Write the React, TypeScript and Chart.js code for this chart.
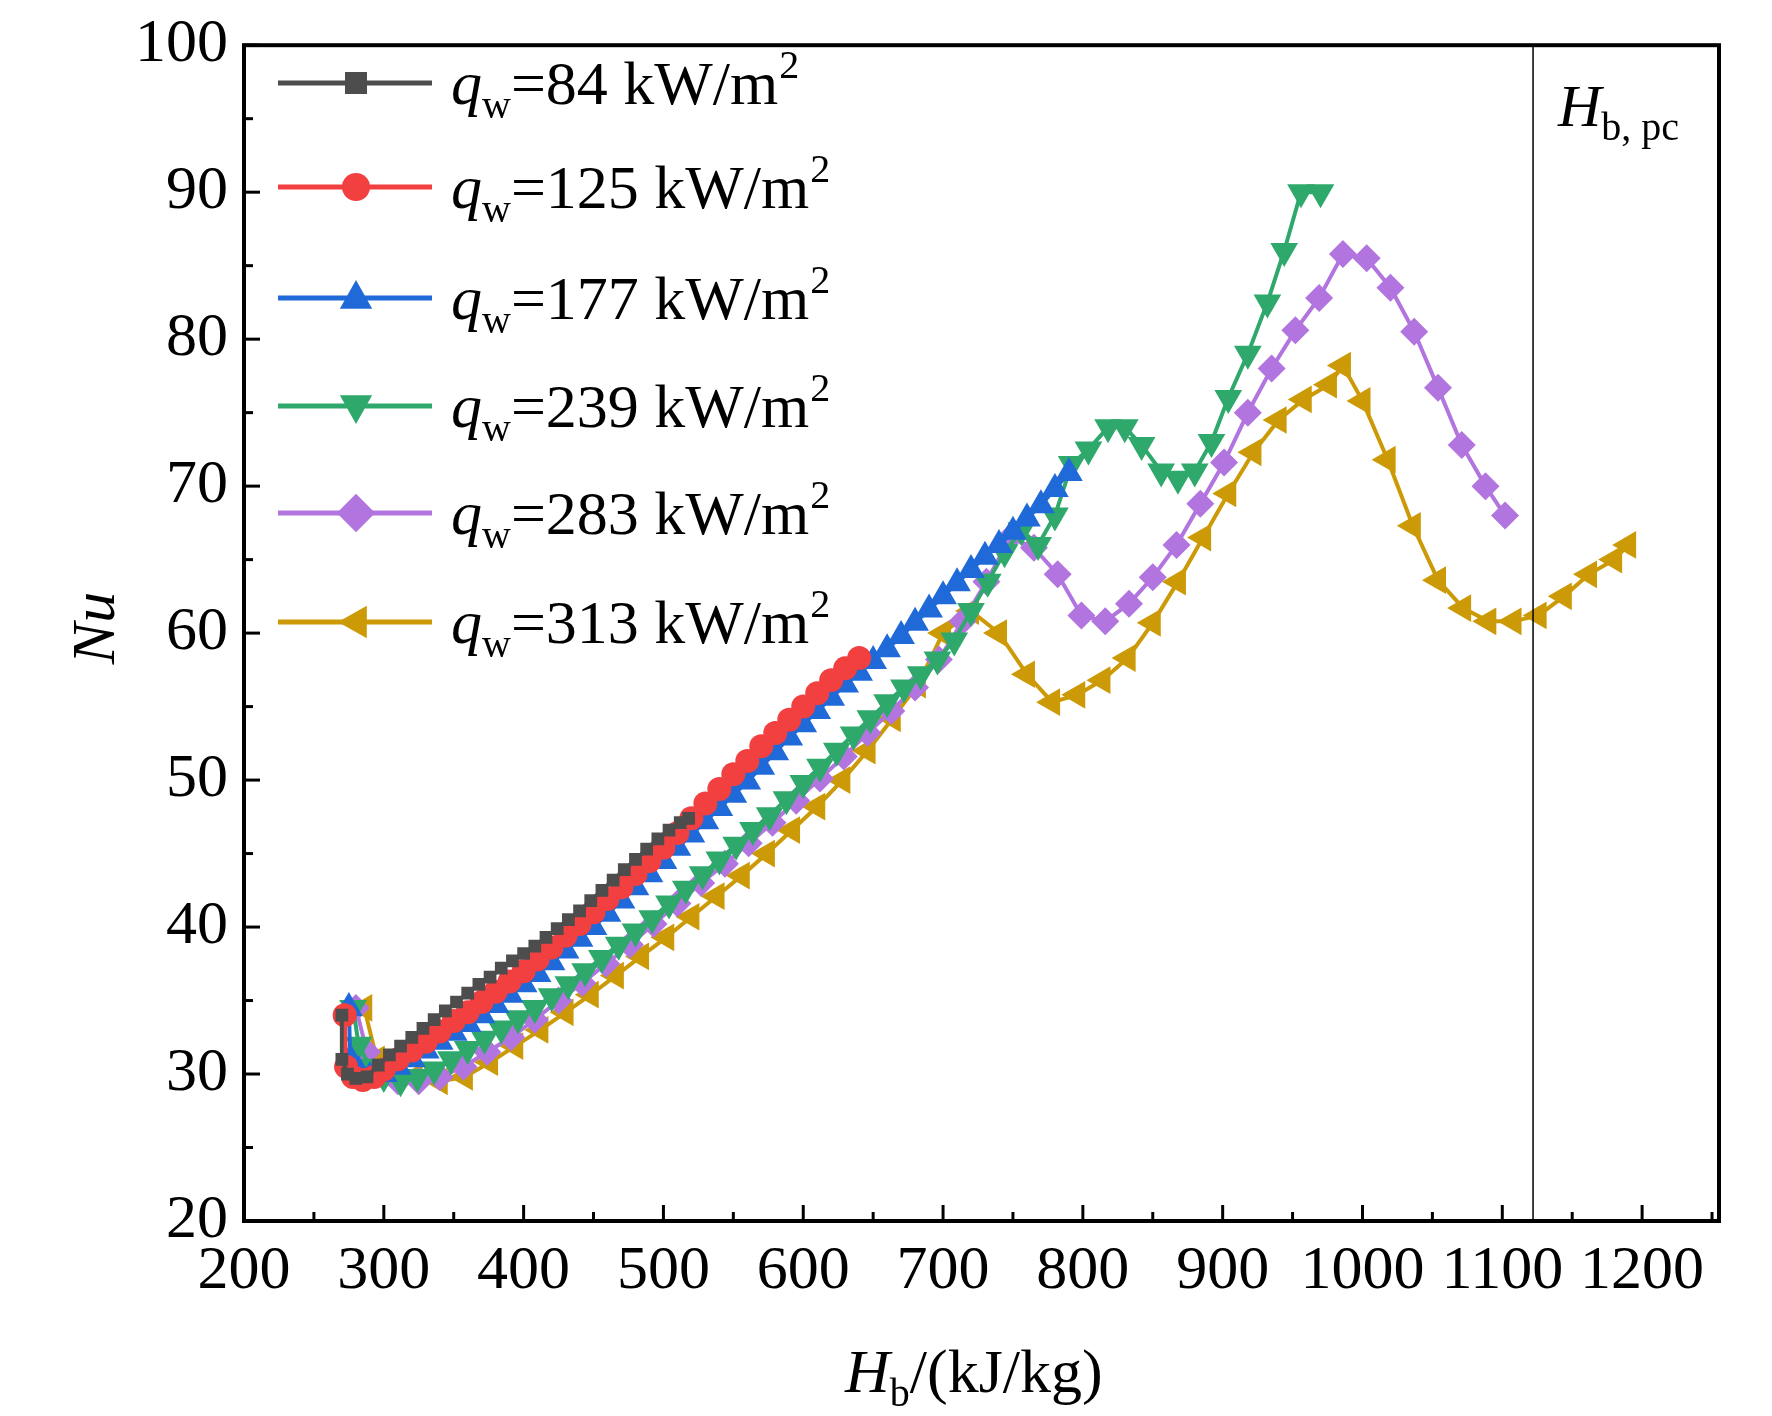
import React, { useEffect, useRef } from "react";
import { Chart, registerables } from "chart.js";
Chart.register(...registerables);

const legendLabels = ["84", "125", "177", "239", "283", "313"];
const colors = ["#4d4d4d", "#f23f3f", "#1f6ad8", "#2fa86c", "#b274de", "#cc9a06"];
const styles = ["rect", "circle", "triangle", "triangle", "rectRot", "triangle"];
const rotations = [0, 0, 0, 180, 0, -90];
const radii = [9, 12, 16, 16, 14, 16];

const s84x = [270,270,274,280,288,296,304,312,320,328,336,344,352,360,368,376,384,392,400,408,416,424,432,440,448,456,464,472,480,488,496,504,512,518];
const s84y = [34,31,30,29.7,29.8,30.6,31.3,31.9,32.5,33.1,33.7,34.3,34.9,35.5,36.1,36.6,37.2,37.7,38.2,38.7,39.3,39.9,40.5,41.1,41.8,42.5,43.2,43.9,44.6,45.3,46,46.6,47.1,47.4];
const s125x = [272,273,278,285,293,300,310,320,330,340,350,360,370,380,390,400,410,420,430,440,450,460,470,480,490,500,510,520,530,540,550,560,570,580,590,600,610,620,630,640];
const s125y = [34,30.5,29.8,29.6,29.8,30.3,31,31.6,32.2,32.9,33.6,34.2,34.9,35.6,36.3,37,37.8,38.6,39.4,40.2,41,41.9,42.7,43.6,44.5,45.4,46.4,47.4,48.4,49.4,50.4,51.3,52.3,53.2,54.1,55,55.9,56.8,57.6,58.3];
const s177x = [275,276,282,290,300,310,320,330,340,350,360,370,380,390,400,410,420,430,440,450,460,470,480,490,500,510,520,530,540,550,560,570,580,590,600,610,620,630,640,650,660,670,680,690,700,710,720,730,740,750,760,770,780,790];
const s177y = [34.5,31,30.2,29.8,30,30.5,31,31.6,32.2,32.8,33.4,34,34.7,35.4,36.1,36.8,37.6,38.4,39.2,40,40.9,41.8,42.7,43.6,44.5,45.4,46.3,47.2,48.1,49,49.9,50.9,51.9,52.9,53.8,54.7,55.6,56.5,57.3,58.1,58.9,59.8,60.7,61.6,62.5,63.4,64.3,65.2,66,66.9,67.8,68.7,69.8,70.9];
const s239x = [278,282,290,300,312,324,336,348,360,372,384,396,408,420,432,444,456,468,480,492,504,516,528,540,552,564,576,588,600,612,624,636,648,660,672,684,696,708,720,732,744,756,768,780,792,804,818,830,842,856,868,880,892,904,918,932,944,956,970];
const s239y = [34.5,32,30.5,29.8,29.5,29.8,30.3,31,31.7,32.4,33.1,33.8,34.5,35.3,36.1,37,37.9,38.8,39.7,40.6,41.6,42.6,43.6,44.6,45.6,46.6,47.6,48.7,49.8,50.9,52,53.1,54.2,55.3,56.3,57.2,58.2,59.5,61.5,63.5,65.5,67,66,68,71.5,72.5,74,74,72.8,71,70.5,71,73,76,79,82.5,86,90,90];
const s283x = [280,288,298,310,325,340,357,374,391,408,425,442,459,476,493,510,527,544,561,578,595,612,629,646,663,680,697,714,731,748,765,782,799,816,833,850,867,884,901,918,935,952,969,986,1003,1020,1037,1054,1071,1088,1102];
const s283y = [34.5,31.5,30,29.5,29.5,29.8,30.5,31.5,32.5,33.7,35,36.2,37.5,38.8,40.2,41.6,43,44.3,45.7,47.1,48.6,50.1,51.6,53.2,54.7,56.3,58.2,60.8,63.5,66.5,65.8,64,61.2,60.8,62,63.8,66,68.8,71.6,75,78,80.6,82.8,85.8,85.5,83.5,80.5,76.7,72.8,70,68];
const s313x = [286,295,305,322,340,358,376,394,412,430,448,466,484,502,520,538,556,574,592,610,628,646,664,682,700,720,740,760,778,796,814,832,850,868,886,904,922,940,958,976,986,1000,1018,1036,1054,1072,1090,1108,1126,1144,1162,1180,1190];
const s313y = [34.5,31,30.3,29.8,29.5,29.8,30.8,31.9,33,34.2,35.4,36.7,38,39.3,40.7,42.1,43.5,45,46.6,48.2,50,52,54.2,56.5,60,61.5,60,57.2,55.3,55.8,56.8,58.3,60.7,63.5,66.5,69.5,72.3,74.5,75.9,76.9,78.2,75.8,71.8,67.3,63.6,61.7,60.8,60.8,61.2,62.5,64,65,66];
const seriesX = [s84x, s125x, s177x, s239x, s283x, s313x];
const seriesY = [s84y, s125y, s177y, s239y, s283y, s313y];

const xTicks = [200,300,400,500,600,700,800,900,1000,1100,1200];
const yTicks = [20,30,40,50,60,70,80,90,100];
const hPc = 1122;

const SERIF = "'Liberation Serif', 'DejaVu Serif', serif";

function marker(ctx: CanvasRenderingContext2D, style: string, rot: number, r: number, x: number, y: number) {
  ctx.save();
  ctx.translate(x, y);
  ctx.rotate((rot * Math.PI) / 180);
  ctx.beginPath();
  if (style === "rect") ctx.rect(-r, -r, 2 * r, 2 * r);
  else if (style === "circle") ctx.arc(0, 0, r, 0, Math.PI * 2);
  else if (style === "rectRot") { ctx.moveTo(0, -r * 1.2); ctx.lineTo(r * 1.2, 0); ctx.lineTo(0, r * 1.2); ctx.lineTo(-r * 1.2, 0); ctx.closePath(); }
  else { ctx.moveTo(0, -r); ctx.lineTo(r * 0.9, r * 0.6); ctx.lineTo(-r * 0.9, r * 0.6); ctx.closePath(); }
  ctx.fill();
  ctx.restore();
}

export default function App() {
  const ref = useRef<HTMLCanvasElement>(null);
  useEffect(() => {
    document.body.style.margin = "0";
    const deco = {
      id: "deco",
      afterDatasetsDraw(chart: any) {
        const ctx = chart.ctx;
        const a = chart.chartArea;
        const xs = chart.scales.x, ys = chart.scales.y;
        ctx.save();
        ctx.strokeStyle = "#000"; ctx.lineWidth = 1.5;
        const vx = xs.getPixelForValue(hPc);
        ctx.beginPath(); ctx.moveTo(vx, a.top); ctx.lineTo(vx, a.bottom); ctx.stroke();
        ctx.lineWidth = 4;
        ctx.strokeRect(a.left, a.top, a.right - a.left, a.bottom - a.top);
        ctx.lineWidth = 3;
        for (let v = 200; v <= 1250; v += 50) {
          const p = xs.getPixelForValue(v);
          const L = v % 100 === 0 ? 16 : 9;
          ctx.beginPath(); ctx.moveTo(p, a.bottom); ctx.lineTo(p, a.bottom - L); ctx.stroke();
        }
        for (let v = 20; v <= 100; v += 5) {
          const p = ys.getPixelForValue(v);
          const L = v % 10 === 0 ? 16 : 9;
          ctx.beginPath(); ctx.moveTo(a.left, p); ctx.lineTo(a.left + L, p); ctx.stroke();
        }
        const ly = [83, 187, 298, 406, 513, 622];
        ctx.textBaseline = "alphabetic";
        for (let i = 0; i < 6; i++) {
          ctx.strokeStyle = colors[i]; ctx.lineWidth = 5;
          ctx.beginPath(); ctx.moveTo(278, ly[i]); ctx.lineTo(432, ly[i]); ctx.stroke();
          ctx.fillStyle = colors[i];
          marker(ctx, styles[i], rotations[i], radii[i] + 2, 356, ly[i]);
          let x = 451; const base = ly[i] + 21;
          ctx.fillStyle = "#000";
          ctx.font = `italic 62px ${SERIF}`; ctx.fillText("q", x, base); x += ctx.measureText("q").width;
          ctx.font = `40px ${SERIF}`; ctx.fillText("w", x, base + 14); x += ctx.measureText("w").width;
          ctx.font = `62px ${SERIF}`; const t = "=" + legendLabels[i] + " kW/m"; ctx.fillText(t, x, base); x += ctx.measureText(t).width;
          ctx.font = `40px ${SERIF}`; ctx.fillText("2", x + 1, base - 26);
        }
        ctx.fillStyle = "#000";
        let x = 1558; const b = 126;
        ctx.font = `italic 60px ${SERIF}`; ctx.fillText("H", x, b); x += ctx.measureText("H").width;
        ctx.font = `40px ${SERIF}`; ctx.fillText("b, pc", x, b + 14);
        x = 845; const tb = 1392;
        ctx.font = `italic 62px ${SERIF}`; ctx.fillText("H", x, tb); x += ctx.measureText("H").width;
        ctx.font = `40px ${SERIF}`; ctx.fillText("b", x, tb + 14); x += ctx.measureText("b").width;
        ctx.font = `62px ${SERIF}`; ctx.fillText("/(kJ/kg)", x, tb);
        ctx.translate(114, 628); ctx.rotate(-Math.PI / 2);
        ctx.font = `italic 62px ${SERIF}`; ctx.textAlign = "center"; ctx.fillText("Nu", 0, 0);
        ctx.restore();
      },
    };
    const chart = new Chart(ref.current!, {
      type: "line",
      data: {
        datasets: seriesX.map((xs, i) => ({
          label: legendLabels[i],
          data: xs.map((x, j) => ({ x, y: seriesY[i][j] })),
          borderColor: colors[i],
          backgroundColor: colors[i],
          borderWidth: 4,
          pointStyle: styles[i] as any,
          rotation: rotations[i],
          pointRadius: radii[i],
          pointBorderWidth: 0,
          tension: 0,
        })),
      },
      options: {
        animation: false,
        responsive: false,
        layout: { padding: { top: 36, right: 53, left: 0, bottom: 0 } },
        plugins: { legend: { display: false }, tooltip: { enabled: false } },
        scales: {
          x: {
            type: "linear", min: 200, max: 1255,
            afterBuildTicks: (s: any) => { s.ticks = xTicks.map((v) => ({ value: v })); },
            afterFit: (s: any) => { s.height = 1416 - 1221; },
            grid: { display: false }, border: { display: false },
            ticks: { color: "#000", font: { family: SERIF, size: 62 }, padding: 6, maxRotation: 0, autoSkip: false, callback: (v: any) => String(v) },
          },
          y: {
            min: 20, max: 100,
            afterBuildTicks: (s: any) => { s.ticks = yTicks.map((v) => ({ value: v })); },
            afterFit: (s: any) => { s.width = 244; },
            grid: { display: false }, border: { display: false },
            ticks: { color: "#000", font: { family: SERIF, size: 62 }, padding: 8, callback: (v: any) => String(v) },
          },
        },
      },
      plugins: [deco],
    });
    return () => chart.destroy();
  }, []);
  return <canvas ref={ref} width={1772} height={1416} style={{ display: "block" }} />;
}
